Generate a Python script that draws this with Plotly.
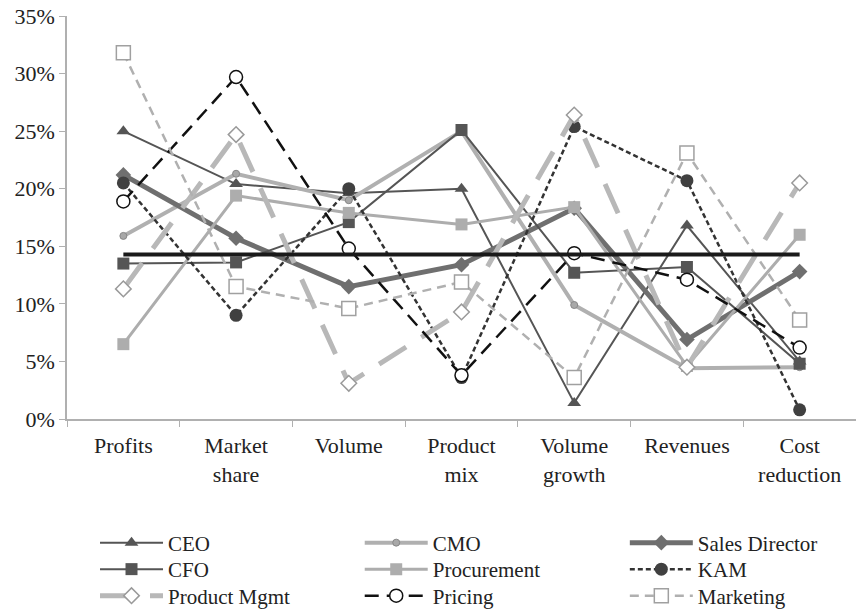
import plotly.graph_objects as go

categories = ["Profits", "Market<br>share", "Volume", "Product<br>mix",
              "Volume<br>growth", "Revenues", "Cost<br>reduction"]

ceo = [25.0, 20.4, 19.6, 20.0, 1.4, 16.8, 5.0]
cmo = [15.9, 21.3, 19.0, 25.0, 9.9, 4.4, 4.5]
sales_director = [21.2, 15.7, 11.5, 13.4, 18.3, 6.9, 12.8]
cfo = [13.5, 13.6, 17.1, 25.1, 12.7, 13.2, 4.8]
procurement = [6.5, 19.4, 17.9, 16.9, 18.4, 4.6, 16.0]
kam = [20.5, 9.0, 20.0, 3.6, 25.4, 20.7, 0.8]
product_mgmt = [11.3, 24.7, 3.1, 9.3, 26.4, 4.5, 20.5]
pricing = [18.9, 29.7, 14.8, 3.8, 14.4, 12.1, 6.2]
marketing = [31.8, 11.5, 9.6, 11.9, 3.6, 23.1, 8.6]
average = [100 / 7] * 7

y_ticks = [0, 5, 10, 15, 20, 25, 30, 35]
y_labels = [f"{t}%" for t in y_ticks]

font = "Liberation Serif"

# legend grid: one single-entry legend per cell (column x, row y in paper units)
col_x = [0.0355, 0.371, 0.707]
row_y = [-0.3077, -0.3734, -0.4392]

fig = go.Figure()
legend_layout = {}
slot = [0]


def add(name, values, cell, line, marker, mode="lines+markers", showlegend=True):
    legend_id = None
    if showlegend:
        slot[0] += 1
        legend_id = "legend" if slot[0] == 1 else f"legend{slot[0]}"
        row, col = cell
        legend_layout[legend_id] = dict(
            x=col_x[col], y=row_y[row], xanchor="left", yanchor="middle",
            orientation="v", bgcolor="rgba(0,0,0,0)", itemwidth=63,
            font=dict(family=font, size=21, color="#222222"),
        )
    fig.add_trace(go.Scatter(
        x=categories, y=values, name=name, mode=mode,
        line=line, marker=marker, showlegend=showlegend,
        legend=legend_id or "legend",
    ))


add("CEO", ceo, (0, 0),
    dict(color="#555555", width=2),
    dict(symbol="triangle-up", size=12, color="#555555"))
add("CMO", cmo, (0, 1),
    dict(color="#b0b0b0", width=4),
    dict(symbol="circle", size=7, color="#a8a8a8",
         line=dict(color="#888888", width=1)))
add("Sales Director", sales_director, (0, 2),
    dict(color="#6f6f6f", width=5),
    dict(symbol="diamond", size=12, color="#6f6f6f"))
add("CFO", cfo, (1, 0),
    dict(color="#555555", width=2),
    dict(symbol="square", size=12, color="#555555"))
add("Procurement", procurement, (1, 1),
    dict(color="#adadad", width=3),
    dict(symbol="square", size=12, color="#adadad"))
add("KAM", kam, (1, 2),
    dict(color="#333333", width=2.5, dash="5px,3px"),
    dict(symbol="circle", size=13, color="#404040"))
add("Product Mgmt", product_mgmt, (2, 0),
    dict(color="#b8b8b8", width=5, dash="32px,18px"),
    dict(symbol="diamond", size=12, color="white",
         line=dict(color="#9a9a9a", width=1.5)))
add("Pricing", pricing, (2, 1),
    dict(color="#111111", width=2.5, dash="14px,8px"),
    dict(symbol="circle", size=13, color="white",
         line=dict(color="#111111", width=1.5)))
add("Marketing", marketing, (2, 2),
    dict(color="#b0b0b0", width=2.5, dash="9px,6px"),
    dict(symbol="square", size=14, color="white",
         line=dict(color="#a0a0a0", width=1.5)))

# equal-share reference line
add("Average", average, None,
    dict(color="#1a1a1a", width=4), dict(size=1),
    mode="lines", showlegend=False)

fig.update_layout(
    width=856, height=609,
    margin=dict(l=67, r=0, t=16, b=190, autoexpand=False),
    paper_bgcolor="white", plot_bgcolor="white",
    font=dict(family=font, size=21, color="#222222"),
    showlegend=True,
    xaxis=dict(
        type="category", range=[-0.5, 6.5],
        showline=True, linecolor="#b0b0b0", linewidth=1.5,
        ticks="outside", tickson="boundaries", ticklen=6,
        tickcolor="#b0b0b0", showgrid=False, tickangle=0,
        ticklabelstandoff=6,
        tickfont=dict(family=font, size=22, color="#222222"),
    ),
    yaxis=dict(
        range=[0, 35], tickvals=y_ticks, ticktext=y_labels,
        showline=True, linecolor="#b0b0b0", linewidth=1.5,
        ticks="outside", ticklen=6, tickcolor="#b0b0b0",
        showgrid=False, zeroline=False,
        tickfont=dict(family=font, size=22, color="#222222"),
    ),
    **legend_layout,
)

fig.write_html("out.html")
